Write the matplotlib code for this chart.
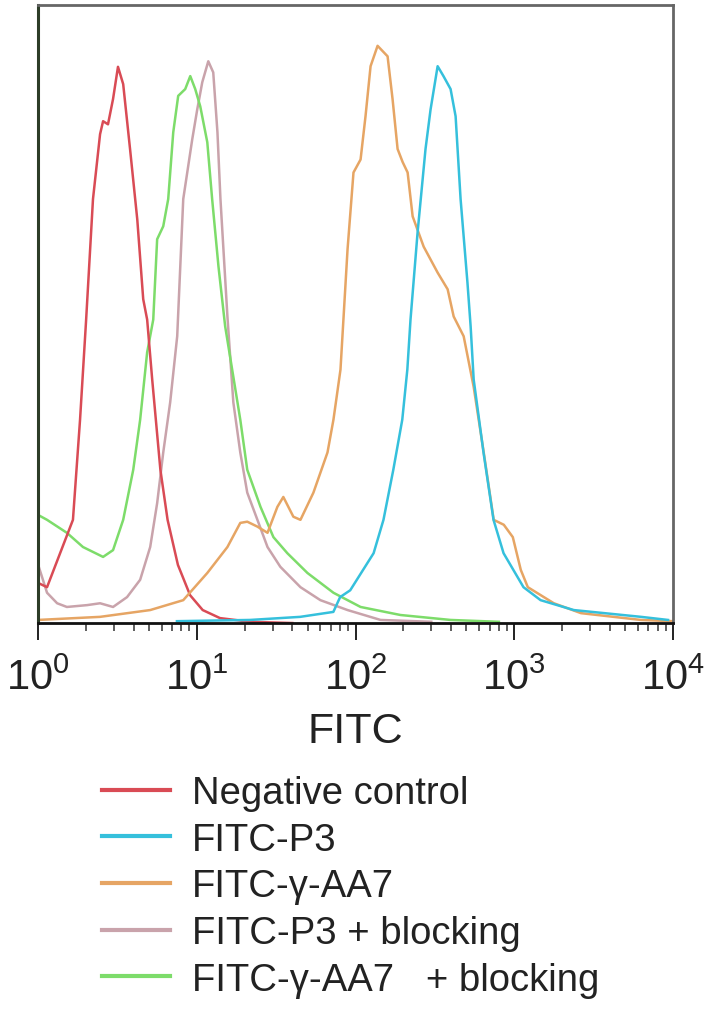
import matplotlib
matplotlib.use("Agg")
import matplotlib.pyplot as plt
from matplotlib.ticker import LogLocator, NullFormatter

plt.rcParams['font.family'] = ['Liberation Sans', 'DejaVu Sans']
plt.rcParams['mathtext.default'] = 'regular'

# histogram traces (FITC value, % of max count)
neg_x = [1.0, 1.14, 1.66, 1.84, 2.01, 2.22, 2.46, 2.57, 2.76, 2.97, 3.19, 3.44, 3.80, 4.22,
         4.60, 4.87, 5.24, 5.90, 6.55, 7.61, 9.08, 10.9, 14.0, 21.7, 40.0]
neg_y = [6.5, 5.8, 16.7, 32.9, 49.1, 68.6, 79.1, 81.2, 80.7, 84.8, 90.0, 87.2, 76.7, 65.3,
         52.4, 49.1, 39.4, 24.8, 16.7, 9.4, 4.5, 2.1, 0.8, 0.2, 0.0]

p3_x = [7.5, 21.7, 44.8, 72.5, 80, 92.6, 130, 150, 173, 197, 212, 222, 246, 276, 297, 329,
        358, 397, 427, 459, 507, 531, 555, 640, 740, 856, 1143, 1465, 2370, 6290, 9300]
p3_y = [0.3, 0.5, 1.0, 1.8, 4.2, 5.3, 11.3, 16.7, 24.8, 32.9, 41.0, 49.1, 63.2, 76.7, 83.1,
        90.1, 88.5, 86.4, 82.0, 68.6, 55.1, 48.0, 39.4, 27.6, 16.7, 11.3, 5.8, 3.7, 2.1, 1.0, 0.5]

aa7_x = [1.0, 2.46, 5.09, 8.22, 11.65, 15.6, 18.8, 20.8, 24.1, 27.9, 32.2, 35.1, 40.6, 45.0,
         54.3, 66.6, 72.6, 80.4, 89.1, 97.1, 107.6, 115.6, 124.4, 137.7, 159.2, 171.1, 184.1,
         198.0, 212.9, 229.0, 268.7, 329.0, 380.5, 415.2, 480, 555, 642, 742, 859, 979, 1099,
         1217, 1775, 2630, 6280, 10000]
aa7_y = [0.5, 1.0, 2.1, 3.7, 8.1, 12.3, 16.2, 16.4, 15.6, 14.6, 18.8, 20.4, 17.2, 16.7,
         21.1, 27.6, 32.9, 41.0, 60.5, 72.9, 75.0, 82.0, 90.1, 93.4, 91.7, 84.8, 76.7,
         74.6, 72.9, 65.8, 60.9, 56.7, 54.0, 49.6, 46.4, 38.2, 27.6, 16.7, 15.9, 13.9, 8.6,
         5.8, 3.2, 1.6, 0.5, 0.3]

p3b_x = [1.0, 1.14, 1.32, 1.52, 2.04, 2.46, 2.97, 3.64, 4.40, 5.09, 5.63, 6.15, 6.80, 7.53,
         8.22, 9.37, 10.07, 10.83, 11.82, 12.7, 13.5, 14.1, 15.6, 17.0, 18.8, 20.8, 24.1,
         27.9, 33.6, 45.0, 60.1, 89.1, 143.8, 300]
p3b_y = [9.5, 4.9, 3.2, 2.6, 2.9, 3.2, 2.6, 4.2, 7.0, 12.3, 19.4, 27.6, 35.7, 46.4,
         68.6, 78.3, 83.1, 87.5, 90.9, 89.1, 79.4, 68.6, 49.6, 35.7, 27.6, 21.1, 16.7,
         12.3, 9.1, 5.8, 3.7, 2.1, 0.5, 0.2]

aa7b_x = [1.0, 1.14, 1.52, 1.92, 2.57, 2.97, 3.44, 3.98, 4.40, 4.87, 5.32, 5.63, 6.15, 6.61,
          7.11, 7.64, 8.46, 9.10, 9.78, 10.52, 11.65, 12.5, 13.7, 15.1, 18.8, 20.8, 25.2,
          30.4, 37.2, 49.8, 72.6, 107.6, 192, 397, 800]
aa7b_y = [17.5, 16.7, 14.6, 12.3, 10.7, 11.8, 16.7, 24.8, 32.9, 43.8, 49.1, 62.1, 64.2, 68.6,
          79.4, 85.3, 86.4, 88.5, 86.4, 83.6, 77.8, 68.6, 57.7, 48.0, 32.9, 24.8, 18.8,
          13.9, 11.3, 8.1, 4.9, 2.6, 1.3, 0.5, 0.2]

labels = ["Negative control", "FITC-P3", "FITC-\u03b3-AA7", "FITC-P3 + blocking",
          "FITC-\u03b3-AA7   + blocking"]
colors = ['#d94b55', '#35c0dc', '#e6a564', '#c9a3ab', '#7ddc6a']

fig = plt.figure(figsize=(7.28, 10.2), dpi=100)
ax = fig.add_axes([0.0522, 0.3882, 0.8723, 0.6059])

series = [(neg_x, neg_y), (p3_x, p3_y), (aa7_x, aa7_y), (p3b_x, p3b_y), (aa7b_x, aa7b_y)]
draw_order = [3, 4, 0, 2, 1]
lines = {}
for i in draw_order:
    x, y = series[i]
    lines[i], = ax.plot(x, y, color=colors[i], lw=1.8, label=labels[i])

ax.set_xscale('log')
ax.set_xlim(1, 1e4)
ax.set_ylim(0, 100)
ax.set_yticks([])
ax.xaxis.set_major_locator(LogLocator(base=10, numticks=10))
ax.xaxis.set_minor_locator(LogLocator(base=10, subs=range(2, 10), numticks=50))
ax.xaxis.set_minor_formatter(NullFormatter())
ax.tick_params(axis='x', which='major', direction='out', length=12, width=1.4,
               labelsize=30, pad=13, colors='#222222')
ax.tick_params(axis='x', which='minor', direction='out', length=6, width=1.1, colors='#333333')

ax.spines['left'].set_color('#2d3d28')
ax.spines['left'].set_linewidth(2.2)
ax.spines['bottom'].set_color('#111111')
ax.spines['bottom'].set_linewidth(2.0)
for s in ['top', 'right']:
    ax.spines[s].set_color('#666666')
    ax.spines[s].set_linewidth(2.0)

ax.set_xlabel("FITC", fontsize=31, color='#222222', labelpad=9)

handles = [lines[i] for i in range(5)]
leg = fig.legend(handles, labels, loc='upper left', bbox_to_anchor=(102 / 728, 1 - 776 / 1020),
                 frameon=False, fontsize=27.5, handlelength=1.78, handletextpad=0.58,
                 labelspacing=0.28, borderpad=0, borderaxespad=0)
for t in leg.get_texts():
    t.set_color('#222222')
for h in leg.legend_handles:
    h.set_linewidth(3)

fig.savefig("out.png", dpi=100)
